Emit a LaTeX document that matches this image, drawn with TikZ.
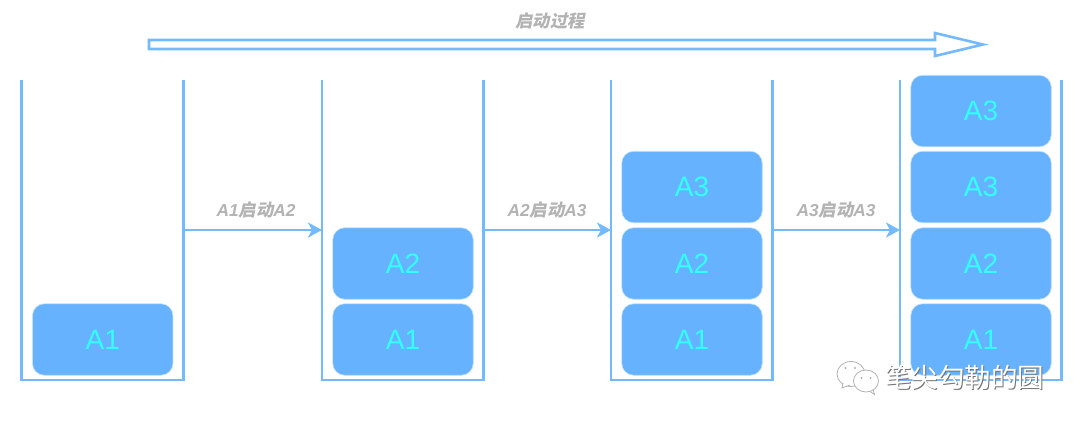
\documentclass[tikz,border=0pt]{standalone}
\usepackage{fontspec}
\setmainfont{Liberation Sans}
\newfontfamily\cjkb[FakeSlant=0.2]{Noto Sans CJK SC Bold}
\newfontfamily\cjkm{Noto Sans CJK SC}
\usetikzlibrary{arrows.meta,shapes.arrows}
\definecolor{blu}{HTML}{66B2FF}
\definecolor{cy}{HTML}{33FFFF}
\definecolor{lab}{HTML}{B3B3B3}
\tikzset{
  item/.style={draw=blu!40!white,line width=0.6pt,fill=blu,rounded corners=12pt,minimum width=140.5pt,minimum height=71.5pt,inner sep=0pt,text=cy,font=\fontsize{28}{28}\selectfont},
  wall/.style={draw=blu!90!white,line width=2.7pt,line join=miter},
  link/.style={draw=blu!90!white,line width=2.7pt,-{Stealth[length=14pt,width=15pt,inset=4pt]}},
  lbl/.style={text=lab,inner sep=0pt,font=\fontsize{17.3}{17}\selectfont\bfseries\itshape},
  wm/.style={inner sep=0pt,font=\fontsize{26.5}{27}\cjkm},
  bubble/.style={draw=black!30,fill=white,line width=0.8pt},
}
\newcommand{\cn}[1]{{\cjkb\fontsize{17.3}{17}\selectfont #1}}
\begin{document}
\begin{tikzpicture}[x=1pt,y=-1pt]
\useasboundingbox (0,0) rectangle (1080,426);
% stacks
\coordinate (s1tl) at (21.7,80); \coordinate (s1bl) at (21.7,380); \coordinate (s1br) at (183.5,380); \coordinate (s1tr) at (183.5,80);
\coordinate (s2tl) at (322,80); \coordinate (s2bl) at (322,380); \coordinate (s2br) at (483.7,380); \coordinate (s2tr) at (483.7,80);
\coordinate (s3tl) at (611,80); \coordinate (s3bl) at (611,380); \coordinate (s3br) at (772.7,380); \coordinate (s3tr) at (772.7,80);
\coordinate (s4tl) at (900,80); \coordinate (s4bl) at (900,380); \coordinate (s4br) at (1061.7,380); \coordinate (s4tr) at (1061.7,80);
\foreach \s in {s1,s2,s3,s4} \draw[wall] (\s tl) -- (\s bl) -- (\s br) -- (\s tr);
% connector ends
\coordinate (a1) at (183.5,230); \coordinate (b1) at (322,230);
\coordinate (a2) at (483.7,230); \coordinate (b2) at (611,230);
\coordinate (a3) at (772.7,230); \coordinate (b3) at (900,230);
\draw[link] (a1) -- (b1);
\draw[link] (a2) -- (b2);
\draw[link] (a3) -- (b3);
% items
\node[item] (p1) at (102.7,339.5) {A1};
\node[item] (q1) at (403,339.5) {A1};
\node[item] (q2) at (403,263.5) {A2};
\node[item] (r1) at (692,339.5) {A1};
\node[item] (r2) at (692,263.5) {A2};
\node[item] (r3) at (692,187) {A3};
\node[item] (t1) at (981,339.5) {A1};
\node[item] (t2) at (981,263.5) {A2};
\node[item] (t3) at (981,187) {A3};
\node[item] (t4) at (981,111) {A3};
% labels
\node[lbl] (l1) at (256,210) {A1\cn{启动}A2};
\node[lbl] (l2) at (547,210) {A2\cn{启动}A3};
\node[lbl] (l3) at (836,210) {A3\cn{启动}A3};
\node[lbl] (l0) at (550,21) {\cn{启动过程}};
% process arrow
\coordinate (pa) at (149,44.5);
\coordinate (pb) at (983,44.5);
\draw[draw=blu!90!white,line width=2.6pt,fill=white,line join=miter]
  (pa) ++(0,-4.5) -- (935,40) -- (935,33) -- (pb) -- (935,56) -- (935,49) -- (149,49) -- cycle;
% watermark icon
\draw[bubble] (851,374) circle[x radius=14,y radius=12.5];
\draw[bubble] (843,383) -- (842,388) -- (850,385);
\draw[bubble] (866,381) circle[x radius=12.5,y radius=11];
\draw[draw=black!30,line width=0.8pt] (870,391.5) -- (874.5,394.5) -- (873,389.5);
\fill[black!30] (845.5,368) circle (1.1) (855,368) circle (1.1) (861.5,378) circle (1.1) (870.5,378) circle (1.1);
% watermark text with shadow
\node[wm,text=black!55] (wms) at (965.5,378) {笔尖勾勒的圆};
\node[wm,text=white] (wmt) at (964.5,377) {笔尖勾勒的圆};
\end{tikzpicture}
\end{document}
